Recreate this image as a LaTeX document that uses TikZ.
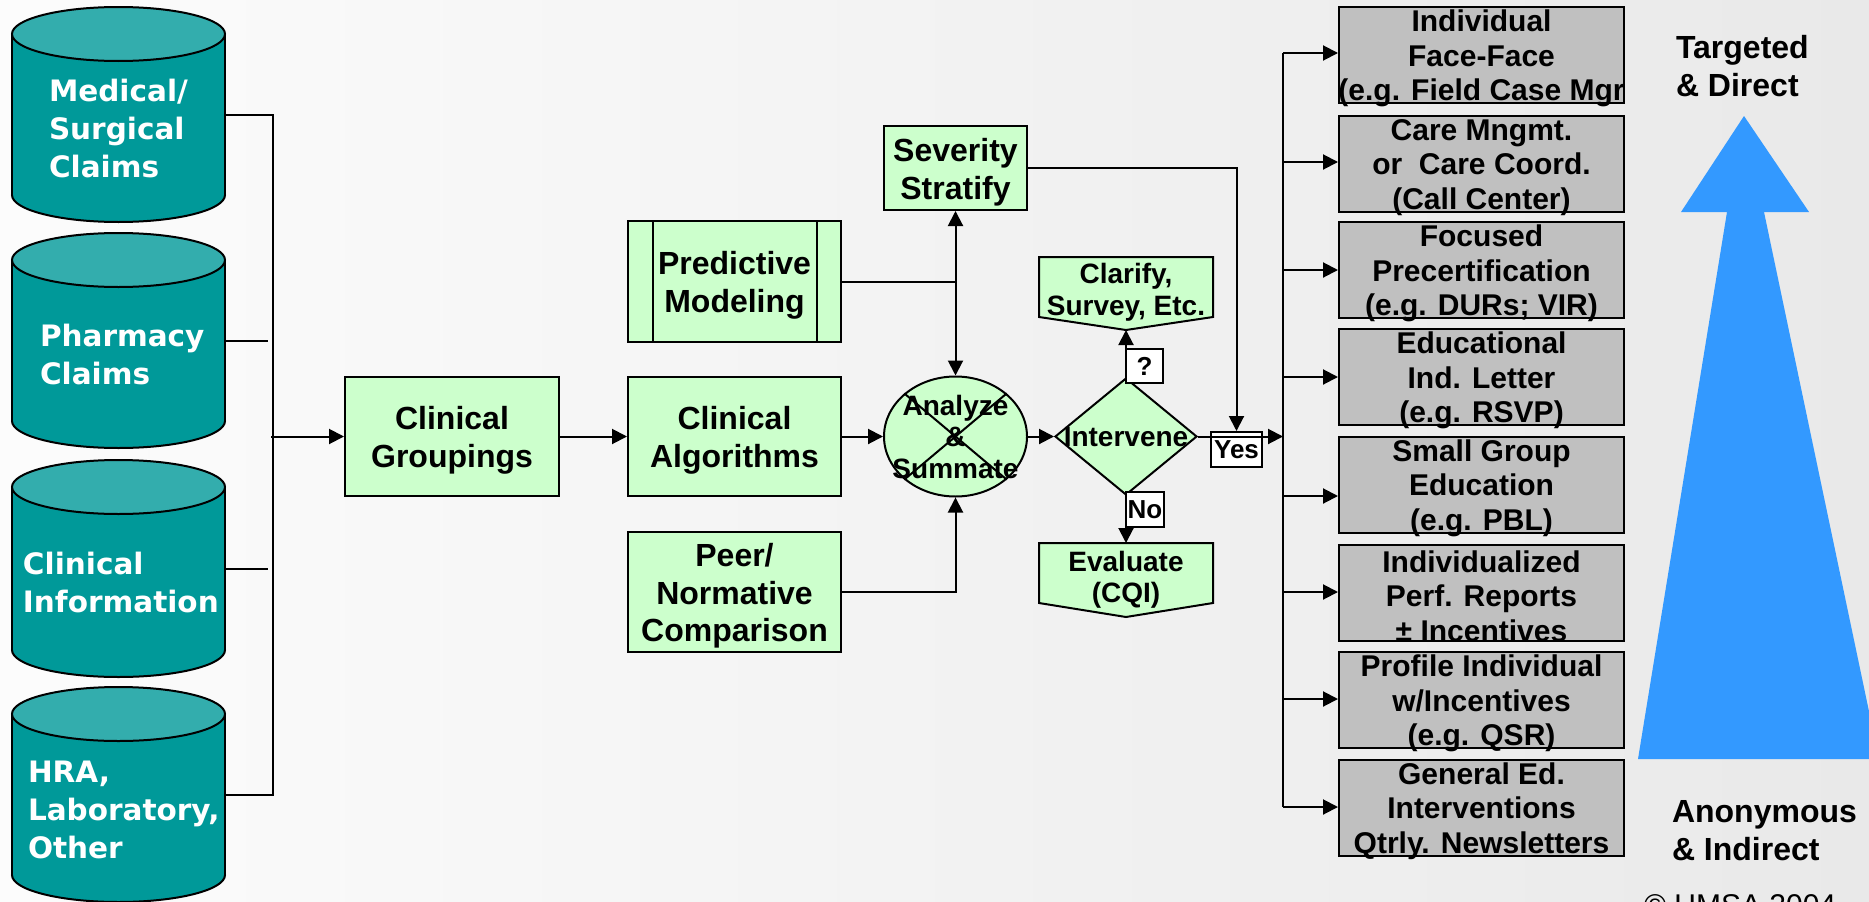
\documentclass[tikz,border=0pt]{standalone}
\usepackage{fontspec}
\setmainfont{Liberation Sans}
\newfontfamily\cylfont{DejaVu Sans}
\usetikzlibrary{shapes.geometric,arrows.meta}

\definecolor{tealbody}{RGB}{0,153,153}
\definecolor{tealtop}{RGB}{51,173,173}
\definecolor{mint}{RGB}{204,255,204}
\definecolor{boxgray}{RGB}{192,192,192}
\definecolor{arrowblue}{RGB}{51,153,255}
\definecolor{bgleft}{RGB}{252,252,252}
\definecolor{bgmid}{RGB}{244,244,244}
\definecolor{bgright}{RGB}{233,233,233}

% data store drum: #1 = top edge, #2 = bottom edge (y grows downward)
\newcommand\tealcyl[2]{%
  \fill[tealbody,draw=black] (118.5,#2-27) ellipse [x radius=106.5, y radius=27];
  \fill[tealbody] (12,#1+27) rectangle (225,#2-27);
  \draw (12,#1+27) -- (12,#2-27) (225,#1+27) -- (225,#2-27);
  \filldraw[fill=tealtop] (118.5,#1+27) ellipse [x radius=106.5, y radius=27];}

\begin{document}
\begin{tikzpicture}[x=1pt,y=-1pt,line width=2pt,
  arr/.style={-{Triangle[length=15pt,width=15pt]}},
  cylnode/.style={rectangle,minimum width=213pt,minimum height=215pt,inner sep=0pt},
  cyltext/.style={anchor=west,align=left,inner sep=0pt,text=white,
    font=\cylfont\bfseries\fontsize{29.5}{38}\selectfont},
  greenbox/.style={draw,fill=mint,rectangle,inner sep=0pt},
  greentext/.style={align=center,inner sep=0pt,font=\bfseries\fontsize{32}{37.5}\selectfont},
  graybox/.style={draw,fill=boxgray,rectangle,minimum width=285pt,minimum height=96pt,inner sep=0pt},
  graytext/.style={align=center,inner sep=0pt,font=\bfseries\fontsize{30}{34.5}\selectfont},
  smalltext/.style={align=center,inner sep=0pt,font=\bfseries\fontsize{28}{31.5}\selectfont},
  tagbox/.style={draw,fill=white,rectangle,inner sep=0pt,font=\bfseries\fontsize{26}{30}\selectfont},
  sidetext/.style={anchor=west,align=left,inner sep=0pt,font=\bfseries\fontsize{32}{38}\selectfont}]

\useasboundingbox (0,0) rectangle (1869,902);
\clip (0,0) rectangle (1869,902);
\shade[left color=bgleft,middle color=bgmid,right color=bgright] (0,0) rectangle (1869,902);

% ---- data sources ----
\tealcyl{7}{222}
\tealcyl{233}{448}
\tealcyl{460}{677}
\tealcyl{687}{902}
\node[cylnode] (medical) at (118.5,114.5) {};
\node[cylnode] (pharmacy) at (118.5,340.5) {};
\node[cylnode] (clininfo) at (118.5,568.5) {};
\node[cylnode] (hra) at (118.5,794.5) {};
\node[cyltext] (medical-t) at (48,128.8) {Medical/\\Surgical\\Claims};
\node[cyltext] (pharmacy-t) at (39,354.8) {Pharmacy\\Claims};
\node[cyltext] (clininfo-t) at (22,582) {Clinical\\Information};
\node[cyltext] (hra-t) at (27,809.5) {HRA,\\Laboratory,\\Other};

% ---- processing boxes ----
\node[greenbox,minimum width=214pt,minimum height=119pt] (grp) at (452,436.5) {};
\node[greenbox,minimum width=213pt,minimum height=121pt] (pred) at (734.5,281.5) {};
\node[greenbox,minimum width=213pt,minimum height=119pt] (alg) at (734.5,436.5) {};
\node[greenbox,minimum width=213pt,minimum height=120pt] (peer) at (734.5,592) {};
\node[greenbox,minimum width=143pt,minimum height=84pt] (sev) at (955.5,168) {};
\draw ([xshift=26pt]pred.north west) -- ([xshift=26pt]pred.south west)
      ([xshift=-25pt]pred.north east) -- ([xshift=-25pt]pred.south east);
\node[greentext] (grp-t) at ([yshift=-4pt]grp.center) {Clinical\\Groupings};
\node[greentext] (pred-t) at ([yshift=-4pt]pred.center) {Predictive\\Modeling};
\node[greentext] (alg-t) at ([yshift=-4pt]alg.center) {Clinical\\Algorithms};
\node[greentext] (peer-t) at ([yshift=-4pt]peer.center) {Peer/\\Normative\\Comparison};
\node[greentext] (sev-t) at ([yshift=-4pt]sev.center) {Severity\\Stratify};

% summing junction and decision
\node[greenbox,ellipse,minimum width=143pt,minimum height=120pt] (ana) at (955.5,436.5) {};
\draw (ana.north west) -- (ana.south east) (ana.north east) -- (ana.south west);
\node[smalltext] (ana-t) at (ana.center) {Analyze\\\&\\Summate};
\node[greenbox,diamond,minimum width=142pt,minimum height=117pt] (dia) at (1126,436.5) {};
\node[smalltext] (dia-t) at (dia.center) {Intervene};

% off-page style outcome boxes
\node[rectangle,minimum width=172pt,minimum height=71pt,inner sep=0pt] (clar) at (1126,293.5) {};
\filldraw[fill=mint] (clar.north west) -- (clar.north east) -- ([yshift=13pt]clar.south east)
  -- (clar.south) -- ([yshift=13pt]clar.south west) -- cycle;
\node[smalltext] (clar-t) at ([yshift=1pt]clar.center) {Clarify,\\Survey, Etc.};
\node[rectangle,minimum width=172pt,minimum height=72pt,inner sep=0pt] (eval) at (1126,580) {};
\filldraw[fill=mint] (eval.north west) -- (eval.north east) -- ([yshift=14pt]eval.south east)
  -- (eval.south) -- ([yshift=14pt]eval.south west) -- cycle;
\node[smalltext] (eval-t) at (eval.center) {Evaluate\\(CQI)};

% branch tags
\node[tagbox,minimum width=37pt,minimum height=34pt] (q) at (1144.5,366) {?};
\node[tagbox,minimum width=38pt,minimum height=35pt] (no) at (1145,509.5) {No};
\node[tagbox,minimum width=51pt,minimum height=35pt] (yes) at (1236.5,449.5) {Yes};

% ---- interventions ----
\node[graybox] (g1) at (1481.5,55) {};
\node[graybox] (g2) at (1481.5,164) {};
\node[graybox] (g3) at (1481.5,270) {};
\node[graybox] (g4) at (1481.5,377) {};
\node[graybox] (g5) at (1481.5,484.5) {};
\node[graybox] (g6) at (1481.5,592.5) {};
\node[graybox] (g7) at (1481.5,700) {};
\node[graybox] (g8) at (1481.5,807.5) {};
\node[graytext] (g1-t) at ([yshift=-3.5pt]g1.center) {Individual\\Face-Face\\(e.g. Field Case Mgr};
\node[graytext] (g2-t) at ([yshift=-3.5pt]g2.center) {Care Mngmt.\\or~ Care Coord.\\(Call Center)};
\node[graytext] (g3-t) at ([yshift=-3.5pt]g3.center) {Focused\\Precertification\\(e.g. DURs; VIR)};
\node[graytext] (g4-t) at ([yshift=-3.5pt]g4.center) {Educational\\Ind. Letter\\(e.g. RSVP)};
\node[graytext] (g5-t) at ([yshift=-3.5pt]g5.center) {Small Group\\Education\\(e.g. PBL)};
\node[graytext] (g6-t) at ([yshift=-3.5pt]g6.center) {Individualized\\Perf. Reports\\± Incentives};
\node[graytext] (g7-t) at ([yshift=-3.5pt]g7.center) {Profile Individual\\w/Incentives\\(e.g. QSR)};
\node[graytext] (g8-t) at ([yshift=-3.5pt]g8.center) {General Ed.\\Interventions\\Qtrly. Newsletters};

% ---- connectors ----
\coordinate (lbus-top) at (273,114.5);
\coordinate (lbus-bot) at (273,794.5);
\coordinate (pharm-end) at (268,340.5);
\coordinate (clin-end) at (268,568.5);
\coordinate (feed) at (271,436.5);
\draw (medical.east) -- (lbus-top) -- (lbus-bot) -- (hra.east);
\draw (pharmacy.east) -- (pharm-end);
\draw (clininfo.east) -- (clin-end);
\draw[arr] (feed) -- (grp.west);
\draw[arr] (grp.east) -- (alg.west);

\coordinate (junc) at (pred.east -| ana.north);
\draw (pred.east) -- (junc);
\draw[arr] (junc) -- (sev.south);
\draw[arr] (junc) -- (ana.north);
\draw[arr] (peer.east) -| (ana.south);
\draw[arr] (alg.east) -- (ana.west);
\draw[arr] (ana.east) -- (dia.west);
\draw[arr] (dia.north) -- (clar.south);
\draw[arr] (dia.south) -- (eval.north);
\draw[arr] (sev.east) -| (yes.north);

\coordinate (rbus-top) at (1283,53);
\coordinate (rbus-bot) at (1283,807);
\draw[arr] (dia.east) -- (dia.east -| rbus-top);
\draw (rbus-top) -- (rbus-bot);
\foreach \g/\yy in {g1/53,g2/162,g3/270,g4/377,g5/496,g6/592,g7/699,g8/807}{
  \coordinate (tap-\g) at (1283,\yy);
  \draw[arr] (tap-\g) -- (tap-\g -| \g.west);
}

% ---- scale arrow ----
\fill[arrowblue] (1744,116) -- (1809,212) -- (1764,212) -- (1879,759) -- (1638,759)
  -- (1727,212) -- (1681,212) -- cycle;
\node[sidetext] (top-lbl) at (1675,66.4) {Targeted\\\& Direct};
\node[sidetext] (bot-lbl) at (1671,831) {Anonymous\\\& Indirect};
\node[anchor=north west,inner sep=0pt,font=\fontsize{30}{34}\selectfont] (copy) at (1643,894) {© UMSA 2004};

\end{tikzpicture}
\end{document}
